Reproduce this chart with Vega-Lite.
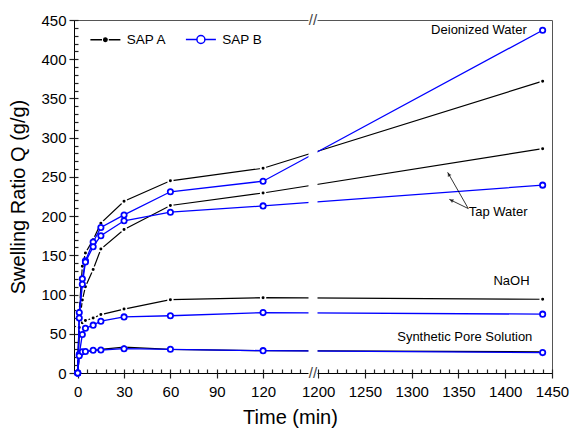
{
  "$schema": "https://vega.github.io/schema/vega-lite/v6.json",
  "width": 478,
  "height": 353,
  "autosize": {"type": "none"},
  "padding": {"left": 74, "top": 20, "right": 18, "bottom": 55},
  "background": "white",
  "config": {
    "view": {"stroke": "#555555", "strokeWidth": 1},
    "font": "Liberation Sans",
    "axis": {"grid": false, "labelFont": "Liberation Sans", "titleFont": "Liberation Sans", "labelColor": "#000000", "titleColor": "#000000", "domainColor": "#000000", "titleFontWeight": "normal", "labelFlush": false, "labelOverlap": false, "domainWidth": 1, "format": "d"},
    "legend": {"orient": "top-left", "offset": 8.3, "padding": 0, "direction": "horizontal", "symbolSize": 400, "symbolStrokeWidth": 1.5, "labelFont": "Liberation Sans", "labelFontSize": 13.5, "labelColor": "#000000", "labelOffset": 22.7, "columnPadding": 10.5, "symbolOpacity": 1}
  },
  "data": {"values": [
    {"medium": "Deionized Water", "sap": "SAP A", "t": 0, "q": 0},
    {"medium": "Deionized Water", "sap": "SAP A", "t": 1, "q": 80},
    {"medium": "Deionized Water", "sap": "SAP A", "t": 3, "q": 136},
    {"medium": "Deionized Water", "sap": "SAP A", "t": 5, "q": 153},
    {"medium": "Deionized Water", "sap": "SAP A", "t": 10, "q": 170},
    {"medium": "Deionized Water", "sap": "SAP A", "t": 15, "q": 191},
    {"medium": "Deionized Water", "sap": "SAP A", "t": 30, "q": 219},
    {"medium": "Deionized Water", "sap": "SAP A", "t": 60, "q": 245},
    {"medium": "Deionized Water", "sap": "SAP A", "t": 120, "q": 261},
    {"medium": "Deionized Water", "sap": "SAP A", "t": 1440, "q": 372},
    {"medium": "Deionized Water", "sap": "SAP B", "t": 0, "q": 0},
    {"medium": "Deionized Water", "sap": "SAP B", "t": 1, "q": 77},
    {"medium": "Deionized Water", "sap": "SAP B", "t": 3, "q": 120},
    {"medium": "Deionized Water", "sap": "SAP B", "t": 5, "q": 143},
    {"medium": "Deionized Water", "sap": "SAP B", "t": 10, "q": 167},
    {"medium": "Deionized Water", "sap": "SAP B", "t": 15, "q": 185.5},
    {"medium": "Deionized Water", "sap": "SAP B", "t": 30, "q": 201.5},
    {"medium": "Deionized Water", "sap": "SAP B", "t": 60, "q": 231},
    {"medium": "Deionized Water", "sap": "SAP B", "t": 120, "q": 244.5},
    {"medium": "Deionized Water", "sap": "SAP B", "t": 1440, "q": 437},
    {"medium": "Tap Water", "sap": "SAP A", "t": 0, "q": 0},
    {"medium": "Tap Water", "sap": "SAP A", "t": 1, "q": 61},
    {"medium": "Tap Water", "sap": "SAP A", "t": 3, "q": 93},
    {"medium": "Tap Water", "sap": "SAP A", "t": 5, "q": 110},
    {"medium": "Tap Water", "sap": "SAP A", "t": 10, "q": 132},
    {"medium": "Tap Water", "sap": "SAP A", "t": 15, "q": 158},
    {"medium": "Tap Water", "sap": "SAP A", "t": 30, "q": 183},
    {"medium": "Tap Water", "sap": "SAP A", "t": 60, "q": 213.5},
    {"medium": "Tap Water", "sap": "SAP A", "t": 120, "q": 229.5},
    {"medium": "Tap Water", "sap": "SAP A", "t": 1440, "q": 286},
    {"medium": "Tap Water", "sap": "SAP B", "t": 0, "q": 0},
    {"medium": "Tap Water", "sap": "SAP B", "t": 1, "q": 70},
    {"medium": "Tap Water", "sap": "SAP B", "t": 3, "q": 113},
    {"medium": "Tap Water", "sap": "SAP B", "t": 5, "q": 141.5},
    {"medium": "Tap Water", "sap": "SAP B", "t": 10, "q": 161},
    {"medium": "Tap Water", "sap": "SAP B", "t": 15, "q": 175},
    {"medium": "Tap Water", "sap": "SAP B", "t": 30, "q": 194},
    {"medium": "Tap Water", "sap": "SAP B", "t": 60, "q": 205},
    {"medium": "Tap Water", "sap": "SAP B", "t": 120, "q": 213},
    {"medium": "Tap Water", "sap": "SAP B", "t": 1440, "q": 239.5},
    {"medium": "NaOH", "sap": "SAP A", "t": 0, "q": 0},
    {"medium": "NaOH", "sap": "SAP A", "t": 1, "q": 58},
    {"medium": "NaOH", "sap": "SAP A", "t": 3, "q": 64},
    {"medium": "NaOH", "sap": "SAP A", "t": 5, "q": 67},
    {"medium": "NaOH", "sap": "SAP A", "t": 10, "q": 70},
    {"medium": "NaOH", "sap": "SAP A", "t": 15, "q": 74.5},
    {"medium": "NaOH", "sap": "SAP A", "t": 30, "q": 81.5},
    {"medium": "NaOH", "sap": "SAP A", "t": 60, "q": 93.5},
    {"medium": "NaOH", "sap": "SAP A", "t": 120, "q": 96},
    {"medium": "NaOH", "sap": "SAP A", "t": 1440, "q": 94},
    {"medium": "NaOH", "sap": "SAP B", "t": 0, "q": 0},
    {"medium": "NaOH", "sap": "SAP B", "t": 1, "q": 24},
    {"medium": "NaOH", "sap": "SAP B", "t": 3, "q": 49},
    {"medium": "NaOH", "sap": "SAP B", "t": 5, "q": 57},
    {"medium": "NaOH", "sap": "SAP B", "t": 10, "q": 61},
    {"medium": "NaOH", "sap": "SAP B", "t": 15, "q": 66},
    {"medium": "NaOH", "sap": "SAP B", "t": 30, "q": 71.5},
    {"medium": "NaOH", "sap": "SAP B", "t": 60, "q": 73},
    {"medium": "NaOH", "sap": "SAP B", "t": 120, "q": 77},
    {"medium": "NaOH", "sap": "SAP B", "t": 1440, "q": 75},
    {"medium": "Synthetic Pore Solution", "sap": "SAP A", "t": 0, "q": 0},
    {"medium": "Synthetic Pore Solution", "sap": "SAP A", "t": 1, "q": 20},
    {"medium": "Synthetic Pore Solution", "sap": "SAP A", "t": 3, "q": 25},
    {"medium": "Synthetic Pore Solution", "sap": "SAP A", "t": 5, "q": 27},
    {"medium": "Synthetic Pore Solution", "sap": "SAP A", "t": 10, "q": 29},
    {"medium": "Synthetic Pore Solution", "sap": "SAP A", "t": 15, "q": 30},
    {"medium": "Synthetic Pore Solution", "sap": "SAP A", "t": 30, "q": 33},
    {"medium": "Synthetic Pore Solution", "sap": "SAP A", "t": 60, "q": 30},
    {"medium": "Synthetic Pore Solution", "sap": "SAP A", "t": 120, "q": 28.5},
    {"medium": "Synthetic Pore Solution", "sap": "SAP A", "t": 1440, "q": 27},
    {"medium": "Synthetic Pore Solution", "sap": "SAP B", "t": 0, "q": 0},
    {"medium": "Synthetic Pore Solution", "sap": "SAP B", "t": 1, "q": 22},
    {"medium": "Synthetic Pore Solution", "sap": "SAP B", "t": 3, "q": 27},
    {"medium": "Synthetic Pore Solution", "sap": "SAP B", "t": 5, "q": 27.5},
    {"medium": "Synthetic Pore Solution", "sap": "SAP B", "t": 10, "q": 29},
    {"medium": "Synthetic Pore Solution", "sap": "SAP B", "t": 15, "q": 29.3},
    {"medium": "Synthetic Pore Solution", "sap": "SAP B", "t": 30, "q": 31},
    {"medium": "Synthetic Pore Solution", "sap": "SAP B", "t": 60, "q": 30.2},
    {"medium": "Synthetic Pore Solution", "sap": "SAP B", "t": 120, "q": 28.5},
    {"medium": "Synthetic Pore Solution", "sap": "SAP B", "t": 1440, "q": 26}
  ]},
  "resolve": {"axis": {"x": "independent", "y": "independent"}},
  "layer": [
    {
      "transform": [{"filter": "datum.sap === 'SAP A'"}],
      "mark": {"type": "line", "color": "#000000", "strokeWidth": 1.2},
      "encoding": {
        "x": {"field": "t", "type": "quantitative",
          "scale": {"type": "linear", "domain": [-2.4, 149.4, 1199.3, 1450], "range": [0, 234.5, 243.5, 478], "nice": false, "zero": false},
          "axis": {"orient": "bottom", "values": [0, 30, 60, 90, 120, 1200, 1250, 1300, 1350, 1400, 1450], "ticks": true, "tickSize": 5, "tickWidth": 1.2, "tickColor": "#222222", "labelFontSize": 15, "labelPadding": 6, "title": "Time (min)", "titleFontSize": 20, "titlePadding": 8, "titleX": 216}},
        "y": {"field": "q", "type": "quantitative",
          "scale": {"domain": [0, 450], "nice": false, "zero": true},
          "axis": {"orient": "left", "values": [0, 50, 100, 150, 200, 250, 300, 350, 400, 450], "ticks": true, "tickSize": 5, "tickWidth": 1.2, "tickColor": "#222222", "labelFontSize": 15, "labelPadding": 3, "title": "Swelling Ratio Q (g/g)", "titleFontSize": 20, "titlePadding": 12}},
        "detail": {"field": "medium"}
      }
    },
    {
      "transform": [{"filter": "datum.sap === 'SAP A'"}],
      "mark": {"type": "point", "shape": "circle", "filled": true, "fill": "#000000", "stroke": "#ffffff", "strokeWidth": 1.7, "size": 22, "opacity": 1},
      "encoding": {
        "x": {"field": "t", "type": "quantitative", "axis": null},
        "y": {"field": "q", "type": "quantitative", "axis": null}
      }
    },
    {
      "transform": [{"filter": "datum.sap === 'SAP B'"}],
      "mark": {"type": "line", "color": "#0000ff", "strokeWidth": 1.3},
      "encoding": {
        "x": {"field": "t", "type": "quantitative",
          "axis": {"orient": "bottom", "offset": -4, "values": [0, 6, 12, 18, 24, 30, 36, 42, 48, 54, 60, 66, 72, 78, 84, 90, 96, 102, 108, 114, 120, 126, 132, 138, 144, 1200, 1210, 1220, 1230, 1240, 1250, 1260, 1270, 1280, 1290, 1300, 1310, 1320, 1330, 1340, 1350, 1360, 1370, 1380, 1390, 1400, 1410, 1420, 1430, 1440, 1450], "ticks": true, "tickSize": 4, "tickWidth": 1.2, "tickColor": "#222222", "labels": false, "domain": false, "title": null}},
        "y": {"field": "q", "type": "quantitative",
          "axis": {"orient": "left", "offset": -4, "values": [0, 10, 20, 30, 40, 50, 60, 70, 80, 90, 100, 110, 120, 130, 140, 150, 160, 170, 180, 190, 200, 210, 220, 230, 240, 250, 260, 270, 280, 290, 300, 310, 320, 330, 340, 350, 360, 370, 380, 390, 400, 410, 420, 430, 440, 450], "ticks": true, "tickSize": 4, "tickWidth": 1.2, "tickColor": "#222222", "labels": false, "domain": false, "title": null}},
        "detail": {"field": "medium"}
      }
    },
    {
      "transform": [{"filter": "datum.sap === 'SAP B'"}],
      "mark": {"type": "point", "shape": "circle", "filled": false, "fill": "#ffffff", "stroke": "#0000ff", "strokeWidth": 1.8, "size": 28, "opacity": 1},
      "encoding": {
        "x": {"field": "t", "type": "quantitative", "axis": null},
        "y": {"field": "q", "type": "quantitative", "axis": null}
      }
    },
    {
      "transform": [{"filter": "datum.t < -100"}],
      "mark": {"type": "point", "strokeWidth": 1.5},
      "encoding": {
        "color": {"field": "sap", "type": "nominal", "scale": {"domain": ["SAP A", "SAP B"], "range": ["#000000", "#0000ff"]}, "legend": {"title": null}},
        "fill": {"field": "sap", "type": "nominal", "scale": {"domain": ["SAP A", "SAP B"], "range": ["#000000", "#ffffff"]}, "legend": {"title": null}},
        "shape": {"field": "sap", "type": "nominal", "scale": {"domain": ["SAP A", "SAP B"], "range": ["M-0.26,0L0.9,0M1.58,0L2.74,0M1.07,0A0.17,0.17,0,1,0,1.41,0A0.17,0.17,0,1,0,1.07,0Z", "M-0.26,0L0.84,0M1.64,0L2.74,0M0.84,0A0.4,0.4,0,1,0,1.64,0A0.4,0.4,0,1,0,0.84,0Z"]}, "legend": {"title": null}}
      }
    },
    {
      "data": {"values": [{}]},
      "mark": {"type": "rect", "color": "#ffffff"},
      "encoding": {
        "x": {"datum": 149.4, "type": "quantitative", "axis": null},
        "x2": {"datum": 1199.3},
        "y": {"datum": -12, "type": "quantitative", "axis": null},
        "y2": {"datum": 462}
      }
    },
    {
      "data": {"values": [{}]},
      "mark": {"type": "text", "text": "//", "fontSize": 15, "color": "#444444", "align": "center", "baseline": "middle"},
      "encoding": {
        "x": {"datum": 674, "type": "quantitative", "axis": null},
        "y": {"datum": 450, "type": "quantitative", "axis": null}
      }
    },
    {
      "data": {"values": [{}]},
      "mark": {"type": "text", "text": "//", "fontSize": 15, "color": "#444444", "align": "center", "baseline": "middle"},
      "encoding": {
        "x": {"datum": 674, "type": "quantitative", "axis": null},
        "y": {"datum": 0, "type": "quantitative", "axis": null}
      }
    },
    {
      "data": {"values": [{}]},
      "mark": {"type": "text", "text": "Deionized Water", "fontSize": 13, "color": "#000000", "align": "right", "baseline": "middle"},
      "encoding": {
        "x": {"datum": 1423, "type": "quantitative", "axis": null},
        "y": {"datum": 437, "type": "quantitative", "axis": null}
      }
    },
    {
      "data": {"values": [{}]},
      "mark": {"type": "text", "text": "Tap Water", "fontSize": 13, "color": "#000000", "align": "left", "baseline": "middle"},
      "encoding": {
        "x": {"datum": 1361, "type": "quantitative", "axis": null},
        "y": {"datum": 205, "type": "quantitative", "axis": null}
      }
    },
    {
      "data": {"values": [{}]},
      "mark": {"type": "text", "text": "NaOH", "fontSize": 13, "color": "#000000", "align": "right", "baseline": "middle"},
      "encoding": {
        "x": {"datum": 1426, "type": "quantitative", "axis": null},
        "y": {"datum": 117, "type": "quantitative", "axis": null}
      }
    },
    {
      "data": {"values": [{}]},
      "mark": {"type": "text", "text": "Synthetic Pore Solution", "fontSize": 13, "color": "#000000", "align": "right", "baseline": "middle"},
      "encoding": {
        "x": {"datum": 1429, "type": "quantitative", "axis": null},
        "y": {"datum": 46, "type": "quantitative", "axis": null}
      }
    },
    {
      "data": {"values": [{}]},
      "mark": {"type": "rule", "color": "#000000", "strokeWidth": 0.8},
      "encoding": {
        "x": {"datum": 1360.5, "type": "quantitative", "axis": null},
        "y": {"datum": 209.6, "type": "quantitative", "axis": null},
        "x2": {"datum": 1338.4},
        "y2": {"datum": 255.9}
      }
    },
    {
      "data": {"values": [{}]},
      "mark": {"type": "rule", "color": "#000000", "strokeWidth": 0.8},
      "encoding": {
        "x": {"datum": 1360.5, "type": "quantitative", "axis": null},
        "y": {"datum": 209.6, "type": "quantitative", "axis": null},
        "x2": {"datum": 1340.2},
        "y2": {"datum": 221.4}
      }
    },
    {
      "data": {"values": [{}]},
      "mark": {"type": "point", "shape": "triangle-up", "filled": true, "color": "#000000", "size": 18, "angle": 330},
      "encoding": {
        "x": {"datum": 1339.6, "type": "quantitative", "axis": null},
        "y": {"datum": 253.2, "type": "quantitative", "axis": null}
      }
    },
    {
      "data": {"values": [{}]},
      "mark": {"type": "point", "shape": "triangle-up", "filled": true, "color": "#000000", "size": 18, "angle": 296},
      "encoding": {
        "x": {"datum": 1342.4, "type": "quantitative", "axis": null},
        "y": {"datum": 220.2, "type": "quantitative", "axis": null}
      }
    }
  ]
}
